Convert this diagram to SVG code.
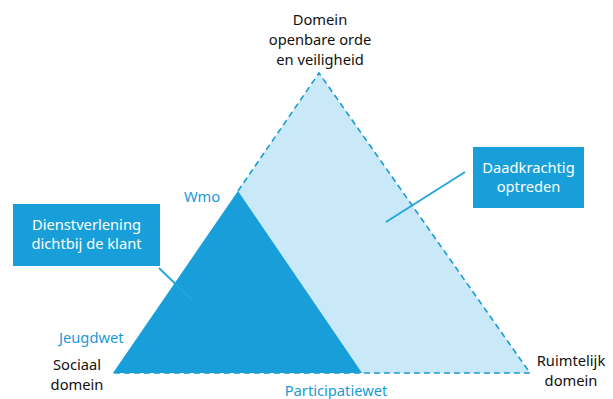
<svg xmlns="http://www.w3.org/2000/svg" width="613" height="399" viewBox="0 0 613 399">
<style>
text{font-family:"Noto Sans","Liberation Sans",sans-serif;font-size:14.7px}
.blk{fill:#111111;text-anchor:middle}
.lbl{fill:#1a9ad6}
.box{fill:#189fd9}
.bt{fill:#ffffff;text-anchor:middle}
.dash{fill:none;stroke:#1a9ad6;stroke-width:1.6;stroke-dasharray:6,4}
.conn{stroke:#1fa5df;stroke-width:1.8;fill:none}
</style>
<rect width="613" height="399" fill="#ffffff"/>
<g id="outer-triangle">
<polygon points="319,73 530,373 113,373" fill="#c9e9f9"/>
</g>
<g id="inner-triangle">
<polygon points="238,191 362,373 113,373" fill="#189fd9"/>
</g>
<g id="outline">
<path class="dash" d="M238,191 L319,73 L530,373 L113,373"/>
</g>
<g id="connectors">
<line class="conn" x1="159" y1="268" x2="192" y2="300"/>
<line class="conn" x1="465" y1="172" x2="386" y2="222"/>
</g>
<g id="box-left">
<rect class="box" x="13" y="204" width="147" height="62"/>
<text class="bt" x="86.5" y="230">Dienstverlening</text>
<text class="bt" x="86.5" y="249">dichtbij de klant</text>
</g>
<g id="box-right">
<rect class="box" x="473" y="147" width="111" height="61"/>
<text class="bt" x="528.5" y="173">Daadkrachtig</text>
<text class="bt" x="528.5" y="192">optreden</text>
</g>
<g id="top-label">
<text class="blk" x="320" y="25">Domein</text>
<text class="blk" x="320" y="45">openbare orde</text>
<text class="blk" x="320" y="65">en veiligheid</text>
</g>
<g id="labels">
<text class="lbl" x="184" y="202">Wmo</text>
<text class="lbl" x="59" y="343">Jeugdwet</text>
<text class="blk" x="77" y="370">Sociaal</text>
<text class="blk" x="77" y="390">domein</text>
<text class="lbl" x="336" y="396" text-anchor="middle">Participatiewet</text>
<text class="blk" x="571" y="366">Ruimtelijk</text>
<text class="blk" x="571" y="386">domein</text>
</g>
</svg>
